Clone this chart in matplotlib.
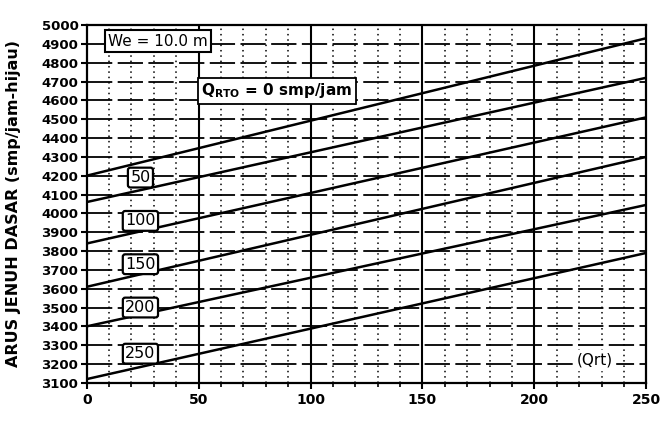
import numpy as np
import matplotlib.pyplot as plt

# Q_RTO curves (smp/jam), value at Qrt = 0 and Qrt = 250
q_rto = [0, 50, 100, 150, 200, 250]
qrt_ends = [0, 250]
s_start = [4200, 4060, 3840, 3610, 3400, 3120]
s_end = [4930, 4720, 4510, 4300, 4045, 3790]
label_y = [4190, 3960, 3730, 3500, 3255]

fig = plt.figure(figsize=(6.67, 4.24), dpi=100)
ax = fig.add_axes([0.130, 0.097, 0.839, 0.844])

# grid
for x in np.arange(10, 250, 10):
    if x % 50 == 0:
        ax.axvline(x, color='black', lw=1.5, zorder=1)
    else:
        ax.axvline(x, color='black', lw=1.1, ls=(0, (1, 2.5)), zorder=1)
for y in np.arange(3200, 5000, 100):
    ax.axhline(y, color='black', lw=1.3, ls=(0, (14, 3)), zorder=1)

for a, b in zip(s_start, s_end):
    ax.plot(qrt_ends, [a, b], color='black', lw=1.8, zorder=3)

box = dict(boxstyle='round,pad=0.15', fc='white', ec='black', lw=1.6)
for q, y in zip(q_rto[1:], label_y):
    ax.text(24, y, str(q), ha='center', va='center', fontsize=11.5,
            bbox=box, zorder=5)

ax.text(32, 4915, 'We = 10.0 m', ha='center', va='center', fontsize=11,
        bbox=dict(boxstyle='square,pad=0.2', fc='white', ec='black', lw=1.5),
        zorder=5)
ax.text(85, 4650, r'Q$_{\mathbf{RTO}}$ = 0 smp/jam', ha='center', va='center',
        fontsize=11, fontweight='bold',
        bbox=dict(boxstyle='square,pad=0.25', fc='white', ec='black', lw=1.3),
        zorder=5)
ax.text(227, 3222, '(Qrt)', ha='center', va='center', fontsize=11,
        bbox=dict(boxstyle='square,pad=0.15', fc='white', ec='white'), zorder=5)

ax.set_xlim(0, 250)
ax.set_ylim(3100, 5000)
ax.set_xticks([0, 50, 100, 150, 200, 250])
ax.set_xticks(np.arange(0, 251, 10), minor=True)
ax.set_yticks(np.arange(3100, 5001, 100))
ax.tick_params(axis='both', direction='out', width=1.5, length=4)
ax.tick_params(axis='x', labelsize=10)
ax.tick_params(axis='y', labelsize=9.5, pad=2)
ax.tick_params(axis='x', which='minor', direction='out', width=1.2, length=3)
for lab in ax.get_xticklabels() + ax.get_yticklabels():
    lab.set_fontweight('bold')
for s in ax.spines.values():
    s.set_linewidth(1.6)

ax.set_ylabel('ARUS JENUH DASAR (smp/jam-hijau)', fontsize=11.5,
              fontweight='bold')
ax.yaxis.set_label_coords(-0.118, 0.5)

fig.savefig('out.png', dpi=100)
